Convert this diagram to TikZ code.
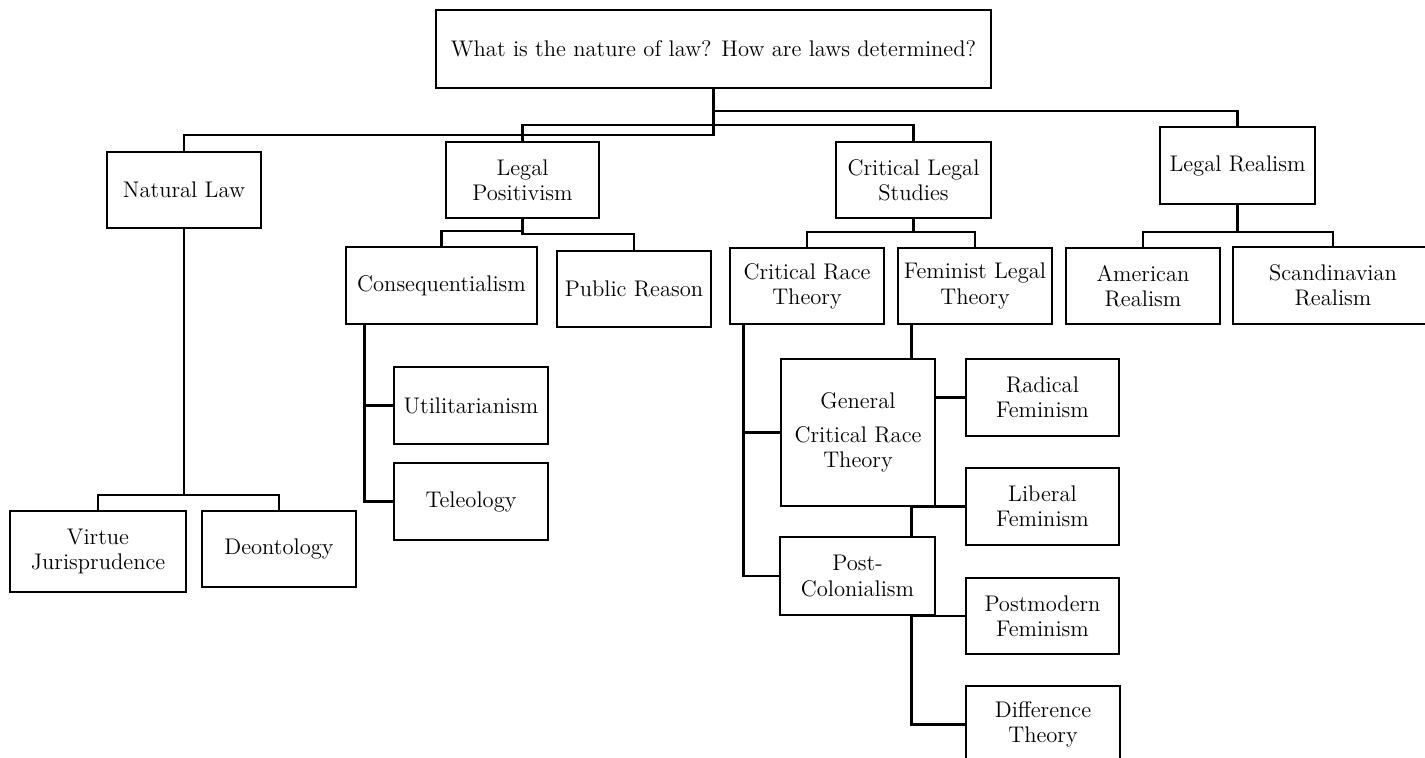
\documentclass[tikz,border=0pt]{standalone}
\usetikzlibrary{backgrounds}
\begin{document}
\begin{tikzpicture}[x=0.5pt,y=-0.5pt,
  box/.style={draw, fill=white, line width=1.35pt, align=center, inner sep=1pt,
    font=\fontsize{11.3}{12.6}\selectfont},
  link/.style={line width=1.35pt, line cap=rect}]
\useasboundingbox (0,0) rectangle (1425,757);
% nodes
\node[box, minimum width=277.5pt, minimum height=39pt] (root) at (713.5,49) {What is the nature of law? How are laws determined?};
\node[box, minimum width=77pt, minimum height=38pt] (NL) at (184,190) {Natural Law};
\node[box, minimum width=76.5pt, minimum height=38pt] (LP) at (522.5,180) {Legal\\Positivism};
\node[box, minimum width=77.5pt, minimum height=38pt] (CLS) at (913.5,180) {Critical Legal\\Studies};
\node[box, minimum width=77.5pt, minimum height=38.5pt] (LR) at (1237.5,165.5) {Legal Realism};
\node[box, minimum width=95.5pt, minimum height=38.5pt] (Cons) at (441.5,285.5) {Consequentialism};
\node[box, minimum width=77pt, minimum height=38pt] (PR) at (634,289) {Public Reason};
\node[box, minimum width=77pt, minimum height=38.5pt] (Util) at (471,405.5) {Utilitarianism};
\node[box, minimum width=77pt, minimum height=38.5pt] (Tele) at (471,501.5) {Teleology};
\node[box, minimum width=88pt, minimum height=40.5pt] (Virt) at (98,551.5) {Virtue\\Jurisprudence};
\node[box, minimum width=77pt, minimum height=38pt] (Deon) at (279,549) {Deontology};
\node[box, minimum width=77pt, minimum height=38pt] (CRT) at (807,286) {Critical Race\\Theory};
\node[box, minimum width=77pt, minimum height=38pt] (FLT) at (975,286) {Feminist Legal\\Theory};
\node[box, minimum width=77pt, minimum height=73.5pt] (GCRT) at (858,432.5) {General\\[4pt]Critical Race\\Theory};
\node[box, minimum width=77.5pt, minimum height=39pt] (PC) at (857.5,576) {Post-\\Colonialism};
\node[box, minimum width=76.5pt, minimum height=38.5pt] (Rad) at (1042.5,397.5) {Radical\\Feminism};
\node[box, minimum width=76.5pt, minimum height=38.5pt] (Lib) at (1042.5,506.5) {Liberal\\Feminism};
\node[box, minimum width=76.5pt, minimum height=38pt] (Post) at (1042.5,616) {Postmodern\\Feminism};
\node[box, minimum width=77pt, minimum height=38.5pt] (Diff) at (1043,724.5) {Difference\\Theory};
\node[box, minimum width=77pt, minimum height=38pt] (AmR) at (1143,286) {American\\Realism};
\node[box, minimum width=100pt, minimum height=38.5pt] (ScR) at (1333,285.5) {Scandinavian\\Realism};
% junctions
\coordinate (rj1) at (713.5,111);
\coordinate (rj2) at (713.5,125);
\coordinate (rj3) at (713.5,135);
\coordinate (lpa) at (522.5,231);
\coordinate (lpb) at (522.5,234);
\coordinate (nlj) at (184,495);
\coordinate (clj) at (913.5,232);
\coordinate (lrj) at (1237.5,232);
\begin{scope}[on background layer]
\draw[link] (root.south) -- (rj3) -| (NL.north);
\draw[link] (rj1) -| (LR.north);
\draw[link] (LP.north) |- (rj2) -| (CLS.north);
\draw[link] (Cons.north) |- (lpa);
\draw[link] (LP.south) -- (lpb) -| (PR.north);
\draw[link] ([xshift=10pt]Cons.south west) |- (Util.west);
\draw[link] ([xshift=10pt]Cons.south west) |- (Tele.west);
\draw[link] (NL.south) -- (nlj);
\draw[link] (Virt.north) |- (nlj) -| (Deon.north);
\draw[link] (CLS.south) -- (clj);
\draw[link] (CRT.north) |- (clj) -| (FLT.north);
\draw[link] (LR.south) -- (lrj);
\draw[link] (AmR.north) |- (lrj) -| (ScR.north);
\draw[link] ([xshift=7.5pt]CRT.south west) |- (GCRT.west);
\draw[link] ([xshift=7.5pt]CRT.south west) |- (PC.west);
\draw[link] ([xshift=7.5pt]FLT.south west) |- (Rad.west);
\draw[link] ([xshift=7.5pt]FLT.south west) |- (Lib.west);
\draw[link] ([xshift=7.5pt]FLT.south west) |- (Post.west);
\draw[link] ([xshift=7.5pt]FLT.south west) |- (Diff.west);
\end{scope}
\end{tikzpicture}
\end{document}
